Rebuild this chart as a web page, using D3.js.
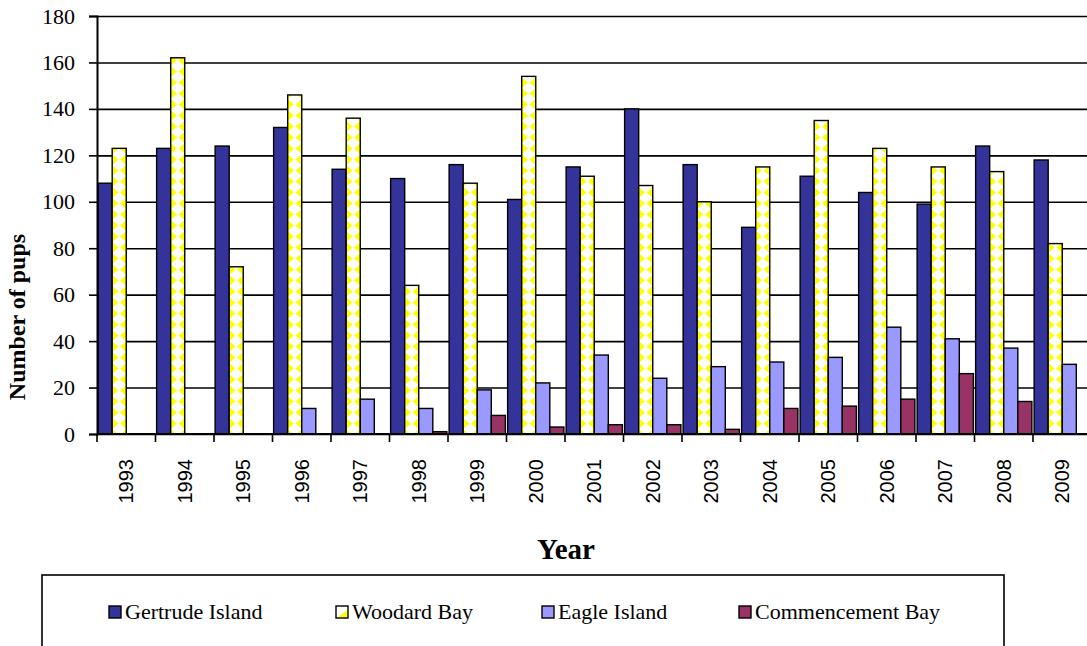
<!DOCTYPE html>
<html>
<head>
<meta charset="utf-8">
<script src="https://cdn.jsdelivr.net/npm/d3@7"></script>
<style>
  body { margin: 0; background: #fff; }
  svg { display: block; }
</style>
</head>
<body>
<div id="chart"></div>
<script>
// data
var years = ["1993", "1994", "1995", "1996", "1997", "1998", "1999", "2000", "2001",
  "2002", "2003", "2004", "2005", "2006", "2007", "2008", "2009"];
var gertrude = [108, 123, 124, 132, 114, 110, 116, 101, 115, 140, 116, 89, 111, 104, 99, 124, 118];
var woodard = [123, 162, 72, 146, 136, 64, 108, 154, 111, 107, 100, 115, 135, 123, 115, 113, 82];
var eagle = [0, 0, 0, 11, 15, 11, 19, 22, 34, 24, 29, 31, 33, 46, 41, 37, 30];
var commencement = [0, 0, 0, 0, 0, 1, 8, 3, 4, 4, 2, 11, 12, 15, 26, 14, 0];
var seriesNames = ["Gertrude Island", "Woodard Bay", "Eagle Island", "Commencement Bay"];
var yTicks = [0, 20, 40, 60, 80, 100, 120, 140, 160, 180];

var seriesValues = [gertrude, woodard, eagle, commencement];
var colors = ["#333399", "url(#woodardFill)", "#9999ff", "#993366"];

var serif = "'Liberation Serif', 'Times New Roman', serif";

var svgWidth = 1087;
var svgHeight = 646;

var plotLeft = 97;
var plotRight = 1091.5;
var plotTop = 16;
var plotBottom = 434;

var svg = d3.select("#chart")
  .append("svg")
  .attr("width", svgWidth)
  .attr("height", svgHeight);

// scales
var yScale = d3.scaleLinear()
  .domain([0, 180])
  .range([plotBottom, plotTop]);

var x0 = d3.scaleBand()
  .domain(years)
  .range([plotLeft, plotRight])
  .padding(0);

var x1 = d3.scaleBand()
  .domain(seriesNames)
  .range([0, x0.bandwidth()])
  .paddingInner(0)
  .paddingOuter(0.08);

// yellow / white diamond pattern for Woodard Bay
var defs = svg.append("defs");
var pw = x1.bandwidth();
var ph = 11;
var pattern = defs.append("pattern")
  .attr("id", "woodardFill")
  .attr("patternUnits", "userSpaceOnUse")
  .attr("x", x1("Woodard Bay"))
  .attr("y", 0)
  .attr("width", pw)
  .attr("height", ph);
pattern.append("rect")
  .attr("width", pw).attr("height", ph).attr("fill", "#fff");
pattern.append("polygon")
  .attr("points", `0,0 ${pw * 0.44},${ph / 2} 0,${ph}`)
  .attr("fill", "#ffff00");
pattern.append("polygon")
  .attr("points", `${pw},0 ${pw * 0.56},${ph / 2} ${pw},${ph}`)
  .attr("fill", "#ffff00");

// gridlines
var grid = svg.append("g")
  .attr("transform", `translate(${plotLeft},0)`)
  .call(d3.axisLeft(yScale).tickValues(yTicks).tickSize(-(plotRight - plotLeft)).tickFormat(""));
grid.select(".domain").remove();
grid.selectAll("line").attr("stroke", "#000").attr("stroke-width", 1.6);

// bars, one group per year
var groups = svg.append("g")
  .selectAll("g")
  .data(years)
  .enter()
  .append("g")
  .attr("transform", d => `translate(${x0(d)},0)`);

groups.selectAll("rect")
  .data((d, i) => seriesNames.map((s, j) => ({ series: s, idx: j, value: seriesValues[j][i] })))
  .enter()
  .filter(d => d.value > 0)
  .append("rect")
  .attr("x", d => x1(d.series))
  .attr("y", d => yScale(d.value))
  .attr("width", x1.bandwidth())
  .attr("height", d => yScale(0) - yScale(d.value))
  .attr("fill", d => colors[d.idx])
  .attr("stroke", "#000")
  .attr("stroke-width", 1.4);

// y axis
var yAxis = svg.append("g")
  .attr("transform", `translate(${plotLeft},0)`)
  .call(d3.axisLeft(yScale).tickValues(yTicks).tickSize(8).tickPadding(14));
yAxis.select(".domain").attr("stroke", "#000").attr("stroke-width", 2);
yAxis.selectAll("line").attr("stroke", "#000").attr("stroke-width", 1.6);
yAxis.selectAll("text")
  .attr("font-family", serif)
  .attr("font-size", "22px")
  .attr("fill", "#000");

// x axis line
svg.append("line")
  .attr("x1", plotLeft).attr("x2", plotRight)
  .attr("y1", plotBottom).attr("y2", plotBottom)
  .attr("stroke", "#000").attr("stroke-width", 2);

// x ticks sit on the category boundaries
var boundaries = years.map(d => x0(d)).concat([plotRight]);
svg.append("g")
  .selectAll("line")
  .data(boundaries)
  .enter()
  .append("line")
  .attr("x1", d => d).attr("x2", d => d)
  .attr("y1", plotBottom).attr("y2", plotBottom + 8)
  .attr("stroke", "#000").attr("stroke-width", 1.6);

// x tick labels (rotated)
svg.append("g")
  .selectAll("text")
  .data(years)
  .enter()
  .append("text")
  .attr("transform", d => `translate(${x0(d) + x0.bandwidth() / 2},459) rotate(-90)`)
  .attr("dy", "0.35em")
  .attr("text-anchor", "end")
  .attr("font-family", "'Liberation Sans', Arial, sans-serif")
  .attr("font-size", "20px")
  .attr("fill", "#000")
  .text(d => d);

// axis titles
svg.append("text")
  .attr("transform", "translate(25,317) rotate(-90)")
  .attr("text-anchor", "middle")
  .attr("font-family", serif)
  .attr("font-weight", "bold")
  .attr("font-size", "24px")
  .text("Number of pups");

svg.append("text")
  .attr("x", 566)
  .attr("y", 559)
  .attr("text-anchor", "middle")
  .attr("font-family", serif)
  .attr("font-weight", "bold")
  .attr("font-size", "29px")
  .text("Year");

// legend
svg.append("rect")
  .attr("x", 42).attr("y", 575)
  .attr("width", 962).attr("height", 100)
  .attr("fill", "none")
  .attr("stroke", "#000")
  .attr("stroke-width", 1.6);

var legendX = [109, 336, 542, 739];
var legend = svg.append("g")
  .selectAll("g")
  .data(seriesNames)
  .enter()
  .append("g")
  .attr("transform", (d, i) => `translate(${legendX[i]},606)`);

legend.append("rect")
  .attr("width", 12).attr("height", 12)
  .attr("fill", (d, i) => i === 1 ? "#fff" : colors[i])
  .attr("stroke", "#000")
  .attr("stroke-width", 1.4);

legend.filter((d, i) => i === 1)
  .append("polygon")
  .attr("points", "2,11 11,4 11,11")
  .attr("fill", "#ffff00");

legend.append("text")
  .attr("x", 16)
  .attr("y", 13)
  .attr("font-family", serif)
  .attr("font-size", "22px")
  .attr("fill", "#000")
  .text(d => d);
</script>
</body>
</html>
